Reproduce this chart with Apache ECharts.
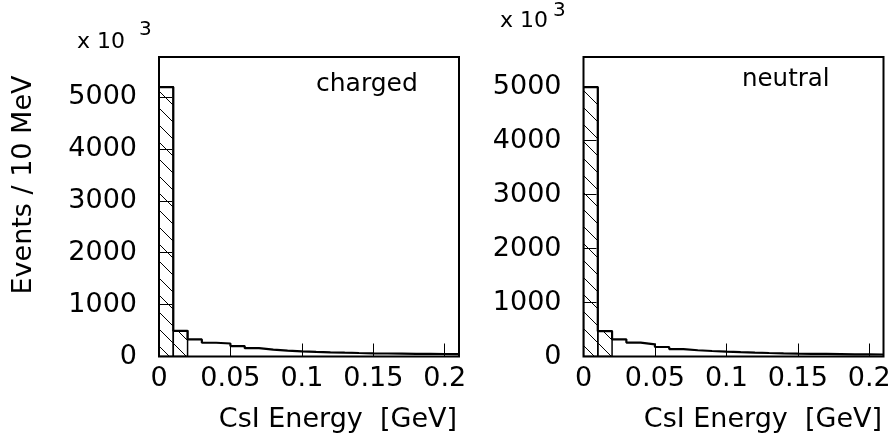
<!DOCTYPE html>
<html>
<head>
<meta charset="utf-8">
<script src="https://cdn.jsdelivr.net/npm/echarts@6/dist/echarts.min.js"></script>
<style>
  html, body { margin: 0; padding: 0; background: #fff; }
  #chart { width: 894px; height: 443px; }
</style>
</head>
<body>
<div id="chart"></div>
<script>
// Lower edges of the 10 MeV energy bins, in GeV
const binLow = [0.00, 0.01, 0.02, 0.03, 0.04, 0.05, 0.06, 0.07, 0.08, 0.09, 0.10,
                0.11, 0.12, 0.13, 0.14, 0.15, 0.16, 0.17, 0.18, 0.19, 0.20];
const binWidth = 0.01;

// Events per bin (units of 10^3)
const charged = [5190, 495, 328, 265, 250, 200, 160, 132, 115, 100, 88,
                 80, 73, 67, 62, 58, 55, 52, 50, 48, 46];
const neutral = [4990, 470, 318, 258, 226, 176, 138, 116, 102, 90, 80,
                 72, 65, 59, 54, 50, 47, 44, 41, 39, 37];

// Number of leading bins drawn with hatching
const hatchedBins = 2;

const panelNames = ['charged', 'neutral'];
const xTickValues = [0, 0.05, 0.1, 0.15, 0.2];
const yTickValues = [0, 1000, 2000, 3000, 4000, 5000];

const FONT = 'DejaVu Sans';

// Diagonal hatch pattern tile
function makeHatch() {
  const s = 17;
  const c = document.createElement('canvas');
  c.width = s; c.height = s;
  const g = c.getContext('2d');
  g.strokeStyle = '#000';
  g.lineWidth = 1;
  g.beginPath();
  g.moveTo(-2, -2); g.lineTo(s + 2, s + 2);
  g.moveTo(-2, s - 2); g.lineTo(2, s + 2);
  g.moveTo(s - 2, -2); g.lineTo(s + 2, 2);
  g.stroke();
  return { image: c, repeat: 'repeat' };
}
const hatch = makeHatch();

function stepData(values) {
  const d = binLow.map((x, i) => [x, values[i]]);
  d.push([binLow[binLow.length - 1] + binWidth, values[values.length - 1]]);
  return d;
}

function hatchedData(values) {
  return binLow.slice(0, hatchedBins).map((x, i) => [x, values[i]]);
}

const grids = [
  { left: 159, top: 57, width: 300, height: 299.5 },
  { left: 583.5, top: 57, width: 300, height: 299.5 }
];
const yMax = [5770, 5550];

function xAxis(i) {
  return {
    type: 'value', gridIndex: i, min: 0, max: 0.21, interval: 0.05,
    axisLine: { show: false },
    axisTick: { inside: true, length: 13, lineStyle: { color: '#000', width: 1 } },
    splitLine: { show: false },
    axisLabel: {
      showMaxLabel: false, margin: 9, color: '#000', fontSize: 27, fontFamily: FONT,
      formatter: v => {
        const t = xTickValues.find(tv => Math.abs(tv - v) < 1e-9);
        return t === undefined ? '' : String(t);
      }
    }
  };
}

function yAxis(i) {
  return {
    type: 'value', gridIndex: i, min: 0, max: yMax[i], interval: 1000,
    axisLine: { show: false },
    axisTick: { inside: true, length: 13, lineStyle: { color: '#000', width: 1 } },
    splitLine: { show: false },
    axisLabel: {
      showMaxLabel: false, margin: 22, color: '#000', fontSize: 27, fontFamily: FONT,
      padding: [4, 0, 0, 0],
      formatter: v => (yTickValues.indexOf(v) >= 0 ? String(v) : '')
    }
  };
}

function hatchSeries(i, values) {
  return {
    type: 'custom', xAxisIndex: i, yAxisIndex: i, z: 2, clip: true,
    data: hatchedData(values),
    renderItem: (params, api) => {
      const x0 = api.value(0), v = api.value(1);
      const p0 = api.coord([x0, v]);
      const p1 = api.coord([x0 + binWidth, 0]);
      return {
        type: 'rect',
        shape: { x: p0[0], y: p0[1], width: p1[0] - p0[0], height: p1[1] - p0[1] },
        style: { fill: hatch, stroke: '#000', lineWidth: 1.5 }
      };
    }
  };
}

function outlineSeries(i, values) {
  return {
    type: 'line', xAxisIndex: i, yAxisIndex: i, z: 3,
    step: 'end', symbol: 'none', silent: true,
    lineStyle: { color: '#000', width: 2.2 },
    data: stepData(values)
  };
}

function txt(x, y, text, size, align, extra) {
  return Object.assign({
    type: 'text', x: x, y: y, silent: true,
    style: { text: text, fill: '#000', font: size + 'px "' + FONT + '"', align: align, verticalAlign: 'middle' }
  }, extra || {});
}

const chart = echarts.init(document.getElementById('chart'), null, { renderer: 'canvas' });
chart.setOption({
  backgroundColor: '#fff',
  animation: false,
  grid: grids.map(g => Object.assign({ show: true, borderColor: '#000', borderWidth: 2, containLabel: false }, g)),
  xAxis: [xAxis(0), xAxis(1)],
  yAxis: [yAxis(0), yAxis(1)],
  series: [
    hatchSeries(0, charged), outlineSeries(0, charged),
    hatchSeries(1, neutral), outlineSeries(1, neutral)
  ],
  graphic: [
    txt(77, 42, 'x 10', 22, 'left'),
    txt(139, 30, '3', 20, 'left'),
    txt(500, 21, 'x 10', 22, 'left'),
    txt(553, 11, '3', 20, 'left'),
    txt(316, 84, panelNames[0], 25, 'left'),
    txt(742, 80, panelNames[1], 24.5, 'left'),
    txt(24, 185, 'Events / 10 MeV', 27, 'center', { rotation: Math.PI / 2 }),
    txt(457, 420, 'CsI Energy  [GeV]', 27, 'right'),
    txt(882, 420, 'CsI Energy  [GeV]', 27, 'right')
  ]
});
</script>
</body>
</html>
